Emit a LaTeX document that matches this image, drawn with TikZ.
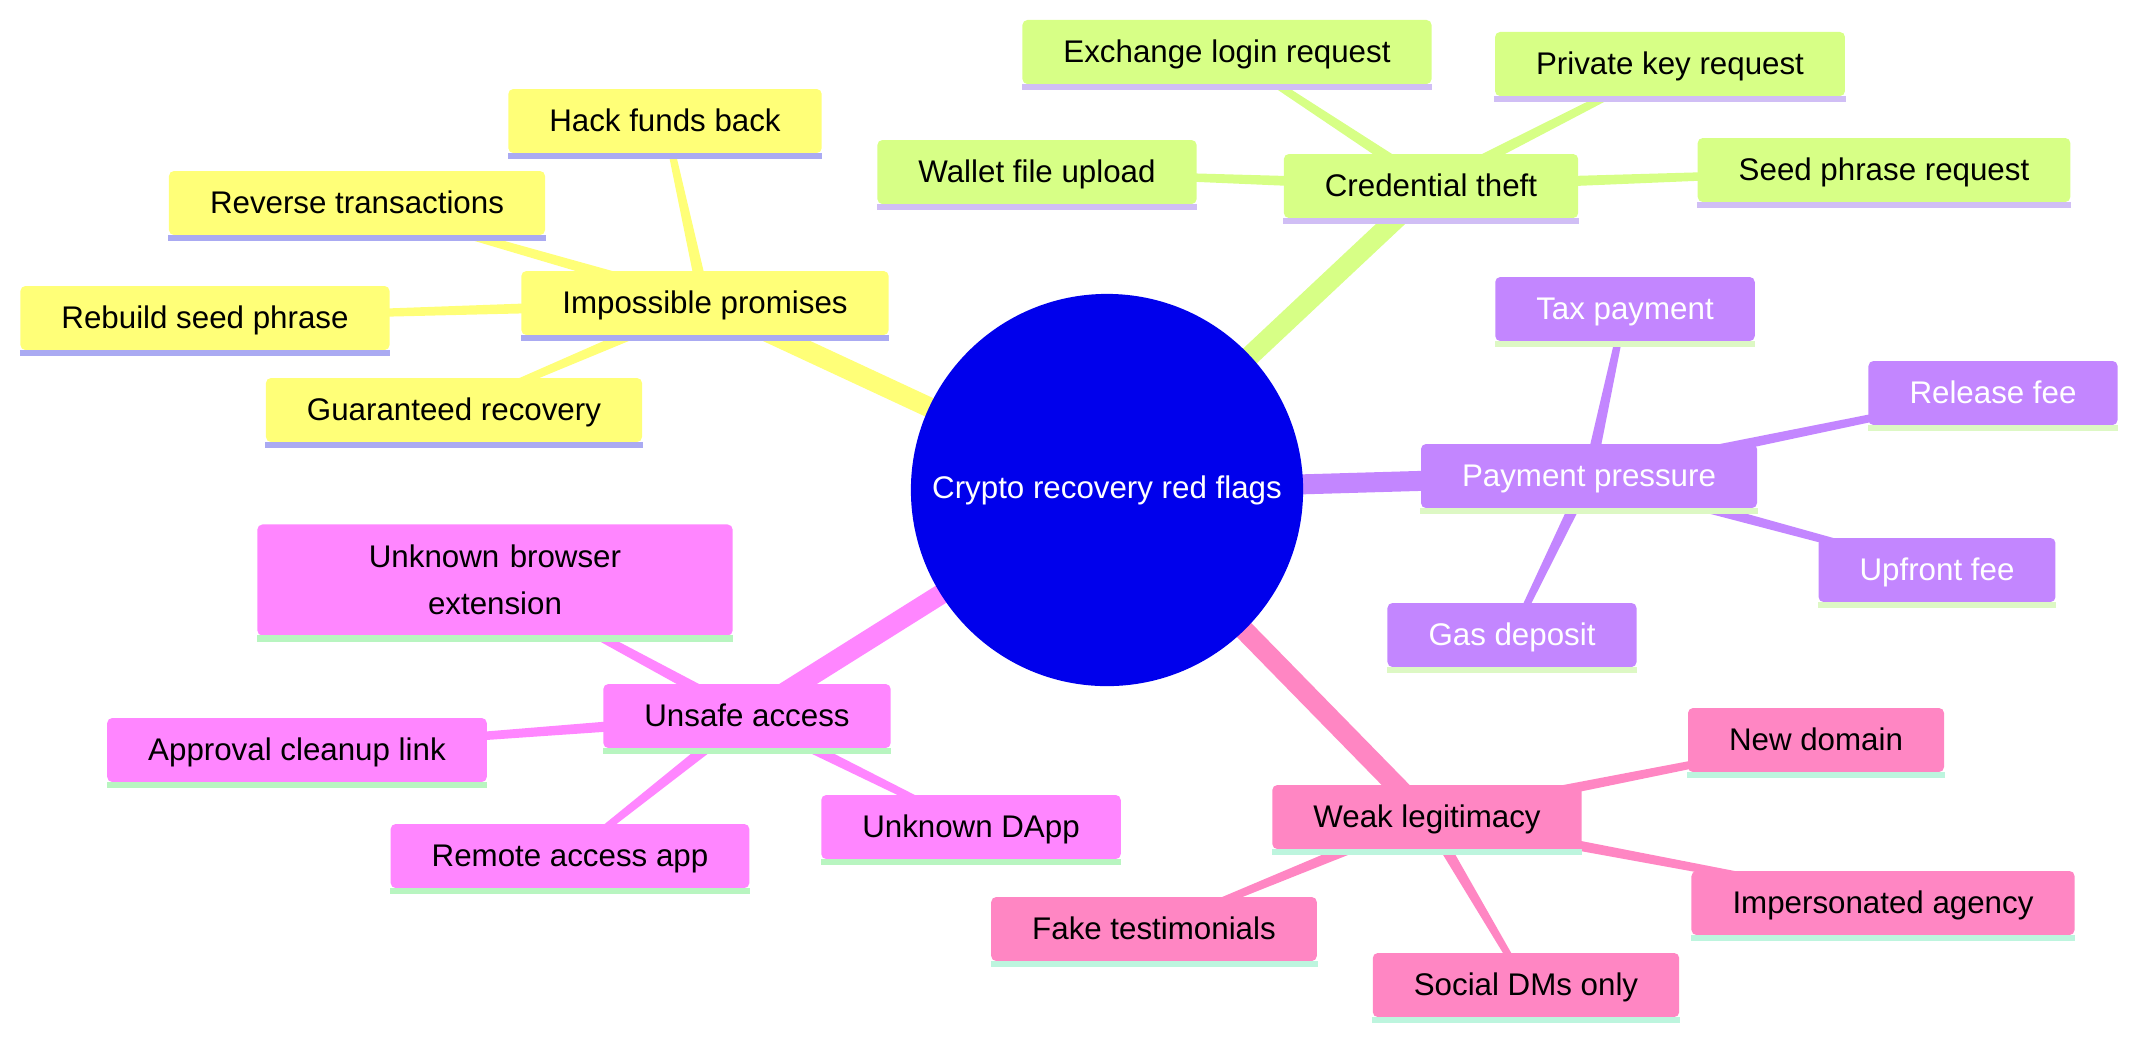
\documentclass[tikz,border=0pt]{standalone}
\usepackage{fontspec}
\setmainfont{Liberation Sans}
\usetikzlibrary{calc,backgrounds}

\definecolor{rootblue}{HTML}{0000EC}
\definecolor{promfill}{HTML}{FFFF78}
\definecolor{promline}{HTML}{AAAAF2}
\definecolor{theftfill}{HTML}{D7FF86}
\definecolor{theftline}{HTML}{D0BEF5}
\definecolor{payfill}{HTML}{C386FF}
\definecolor{payline}{HTML}{DDF8C4}
\definecolor{accfill}{HTML}{FF86FF}
\definecolor{accline}{HTML}{B8F5C0}
\definecolor{legfill}{HTML}{FF86C3}
\definecolor{legline}{HTML}{BDF5DE}

% branch from parent (#1) to child (#2), thinner at the child
\newcommand{\taper}[3]{%
  \fill[#3] ($(#1.center)!0.06cm!90:(#2.center)$) -- ($(#2.center)!0.03cm!-90:(#1.center)$)
    -- ($(#2.center)!0.03cm!90:(#1.center)$) -- ($(#1.center)!0.06cm!-90:(#2.center)$) -- cycle;}

\begin{document}
\begin{tikzpicture}[x=0.01cm,y=-0.01cm,
  card/.style={rounded corners=0.05cm,inner xsep=0.41cm,inner ysep=0pt,minimum height=0.64cm,
    text height=0.716em,text depth=0.05cm,font=\fontsize{8.9}{13.4}\selectfont},
  prom/.style={card,fill=promfill},
  theft/.style={card,fill=theftfill},
  pay/.style={card,fill=payfill,text=white},
  acc/.style={card,fill=accfill},
  leg/.style={card,fill=legfill}]
\useasboundingbox (0,0) rectangle (2154,1050);

\node[circle,fill=rootblue,text=white,minimum size=3.92cm,inner sep=0pt,font=\fontsize{8.9}{13.4}\selectfont] (root) at (1107,490) {Crypto recovery red flags};

\node[prom] (promises) at (705,303) {Impossible promises};
\node[prom] (hack) at (665,121) {Hack funds back};
\node[prom] (reverse) at (357,203) {Reverse transactions};
\node[prom] (rebuild) at (205,318) {Rebuild seed phrase};
\node[prom] (guaranteed) at (454,410) {Guaranteed recovery};

\node[theft] (theft) at (1431,186) {Credential theft};
\node[theft] (exchange) at (1227,52) {Exchange login request};
\node[theft] (privkey) at (1670,64) {Private key request};
\node[theft] (walletfile) at (1037,172) {Wallet file upload};
\node[theft] (seedreq) at (1884,170) {Seed phrase request};

\node[pay] (payment) at (1589,476) {Payment pressure};
\node[pay] (tax) at (1625,309) {Tax payment};
\node[pay] (release) at (1993,393) {Release fee};
\node[pay] (upfront) at (1937,570) {Upfront fee};
\node[pay] (gas) at (1512,635) {Gas deposit};

\node[acc] (access) at (747,716) {Unsafe access};
\node[acc,text height={},text depth={},text width=3.93cm,align=center,minimum height=1.11cm] (extension) at (495,580) {Unknown browser extension};
\node[acc] (cleanup) at (297,750) {Approval cleanup link};
\node[acc] (remote) at (570,856) {Remote access app};
\node[acc] (dapp) at (971,827) {Unknown DApp};

\node[leg] (legit) at (1427,817) {Weak legitimacy};
\node[leg] (domain) at (1816,740) {New domain};
\node[leg] (agency) at (1883,903) {Impersonated agency};
\node[leg] (testimonials) at (1154,929) {Fake testimonials};
\node[leg] (dms) at (1526,985) {Social DMs only};

% underlines
\foreach \n in {promises,hack,reverse,rebuild,guaranteed}
  \fill[promline] ([yshift=0.01cm]\n.south west) rectangle ([yshift=-0.055cm]\n.south east);
\foreach \n in {theft,exchange,privkey,walletfile,seedreq}
  \fill[theftline] ([yshift=0.01cm]\n.south west) rectangle ([yshift=-0.055cm]\n.south east);
\foreach \n in {payment,tax,release,upfront,gas}
  \fill[payline] ([yshift=0.01cm]\n.south west) rectangle ([yshift=-0.055cm]\n.south east);
\foreach \n in {access,extension,cleanup,remote,dapp}
  \fill[accline] ([yshift=0.01cm]\n.south west) rectangle ([yshift=-0.055cm]\n.south east);
\foreach \n in {legit,domain,agency,testimonials,dms}
  \fill[legline] ([yshift=0.01cm]\n.south west) rectangle ([yshift=-0.055cm]\n.south east);

\begin{scope}[on background layer]
\draw[promfill,line width=0.2cm] (root.center) -- (promises.center);
\draw[theftfill,line width=0.2cm] (root.center) -- (theft.center);
\draw[payfill,line width=0.2cm] (root.center) -- (payment.center);
\draw[accfill,line width=0.2cm] (root.center) -- (access.center);
\draw[legfill,line width=0.2cm] (root.center) -- (legit.center);
\foreach \c in {hack,reverse,rebuild,guaranteed} \taper{promises}{\c}{promfill};
\foreach \c in {exchange,privkey,walletfile,seedreq} \taper{theft}{\c}{theftfill};
\foreach \c in {tax,release,upfront,gas} \taper{payment}{\c}{payfill};
\foreach \c in {extension,cleanup,remote,dapp} \taper{access}{\c}{accfill};
\foreach \c in {domain,agency,testimonials,dms} \taper{legit}{\c}{legfill};
\end{scope}
\end{tikzpicture}
\end{document}
